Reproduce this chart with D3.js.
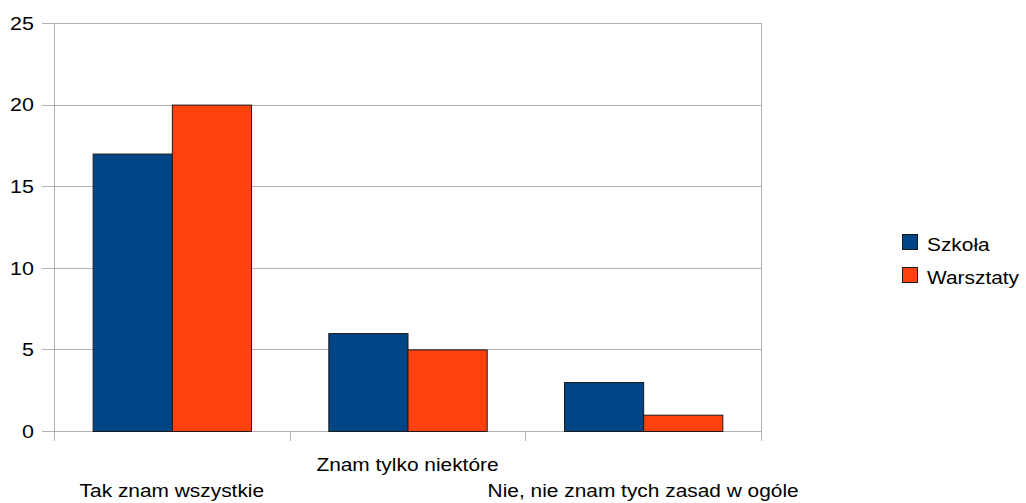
<!DOCTYPE html>
<html>
<head>
<meta charset="utf-8">
<script src="https://cdn.jsdelivr.net/npm/d3@7"></script>
<style>
  html, body { margin: 0; padding: 0; background: #fff; }
  svg { display: block; font-family: "Liberation Sans", Arial, sans-serif; }
</style>
</head>
<body>
<svg id="chart" width="1026" height="503"></svg>
<script>
// Survey answers and counts per group
const categories = ["Tak znam wszystkie", "Znam tylko niektóre", "Nie, nie znam tych zasad w ogóle"];
const seriesNames = ["Szkoła", "Warsztaty"];
const szkola = [17, 6, 3];
const warsztaty = [20, 5, 1];
const yTicks = [0, 5, 10, 15, 20, 25];
const colors = ["#004586", "#ff420e"];

const svg = d3.select("#chart");
const plot = { left: 54, right: 761, top: 23, bottom: 431 };
const stretch = 1.13; // glyphs drawn slightly wide

const x = d3.scaleBand().domain(categories).range([plot.left, plot.right]).padding(0);
const y = d3.scaleLinear().domain([0, 25]).range([plot.bottom, plot.top]);

const barW = x.bandwidth() * 0.336;
const xs = d3.scaleBand().domain(seriesNames)
  .range([0, barW * 2]).padding(0);
const groupOffset = (x.bandwidth() - barW * 2) / 2;

// horizontal gridlines and left tick marks
const grid = svg.append("g");
grid.selectAll("line.h").data(yTicks).join("line")
  .attr("x1", plot.left - 12).attr("x2", plot.right)
  .attr("y1", d => Math.round(y(d)) + 0.5).attr("y2", d => Math.round(y(d)) + 0.5)
  .attr("stroke", "#b3b3b3").attr("stroke-width", 1);

// vertical frame lines and category ticks
const bounds = [plot.left, ...categories.map(c => x(c) + x.bandwidth())];
grid.selectAll("line.v").data(bounds).join("line")
  .attr("x1", d => Math.round(d) + 0.5).attr("x2", d => Math.round(d) + 0.5)
  .attr("y1", (d, i) => (i === 0 || i === bounds.length - 1) ? plot.top : plot.bottom)
  .attr("y2", plot.bottom + 10)
  .attr("stroke", "#b3b3b3").attr("stroke-width", 1);

// text helper: places a label at (px, py) with a horizontal stretch
function label(sel, px, py) {
  return sel.attr("transform", (d, i) => `translate(${px(d, i)},${py(d, i)}) scale(${stretch},1)`);
}

// y tick labels
svg.append("g").selectAll("text").data(yTicks).join("text")
  .call(label, () => 34, d => y(d))
  .attr("dy", "0.36em")
  .attr("text-anchor", "end")
  .attr("font-size", 19)
  .attr("fill", "#000")
  .text(d => d);

// bars
const rows = categories.map((c, i) => ({ cat: c, vals: [szkola[i], warsztaty[i]] }));
const groups = svg.append("g").selectAll("g").data(rows).join("g")
  .attr("transform", d => `translate(${x(d.cat) + groupOffset},0)`);
groups.selectAll("rect").data(d => d.vals.map((v, j) => ({ v, s: seriesNames[j], j })))
  .join("rect")
  .attr("x", d => xs(d.s) + 0.5)
  .attr("y", d => y(d.v) + 0.5)
  .attr("width", xs.bandwidth())
  .attr("height", d => y(0) - y(d.v))
  .attr("fill", d => colors[d.j])
  .attr("stroke", "#1a1a1a")
  .attr("stroke-width", 1);

// category labels, staggered on two rows
svg.append("g").selectAll("text").data(categories).join("text")
  .call(label, d => x(d) + x.bandwidth() / 2, (d, i) => i % 2 === 0 ? 497 : 471)
  .attr("text-anchor", "middle")
  .attr("font-size", 18.5)
  .attr("fill", "#000")
  .text(d => d);

// legend
const legend = svg.append("g").selectAll("g").data(seriesNames).join("g")
  .attr("transform", (d, i) => `translate(902,${234 + i * 33})`);
legend.append("rect")
  .attr("x", 0.5).attr("y", 0.5).attr("width", 15).attr("height", 15)
  .attr("fill", (d, i) => colors[i]).attr("stroke", "#1a1a1a");
legend.append("text")
  .call(label, () => 25, () => 17)
  .attr("font-size", 18.5)
  .attr("fill", "#000")
  .text(d => d);
</script>
</body>
</html>
